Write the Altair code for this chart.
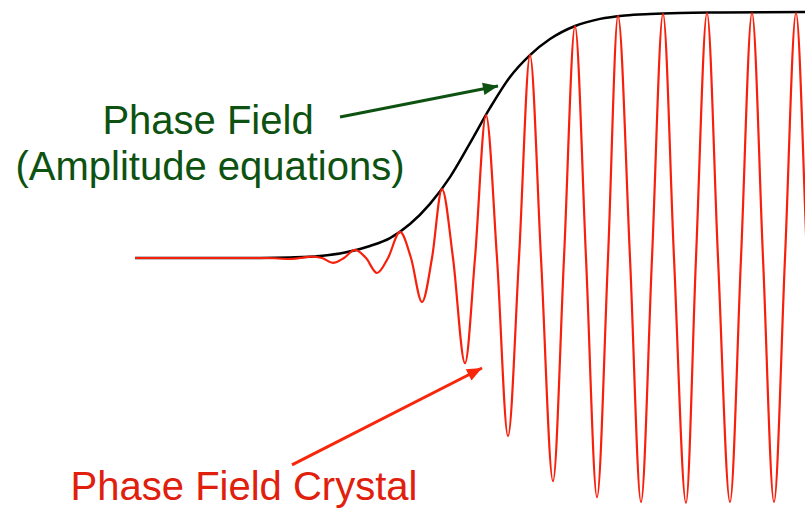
import altair as alt
import pandas as pd

# Amplitude-equation envelope (phase field): position along the interface and amplitude
env_x = [135, 260, 290, 320, 345, 370, 390, 410, 430, 450, 470, 490, 510, 530,
         550, 575, 600, 625, 650, 680, 720, 805]
env_a = [0.0, 0.0, 0.002, 0.008, 0.022, 0.049, 0.081, 0.138, 0.220, 0.329, 0.467,
         0.610, 0.736, 0.825, 0.890, 0.943, 0.972, 0.986, 0.992, 0.996, 0.998, 1.0]

# Phase field crystal density: extrema and baseline crossings
pfc_x = [135, 267, 289, 300, 311, 322, 333, 344, 355, 366, 377, 388, 400, 411, 422,
         432, 442, 453, 465, 475, 486, 497, 508, 519, 530, 541, 553, 564, 575, 586,
         597, 608, 618, 630, 641, 652, 663, 674, 686, 696, 707, 718, 730, 741, 752,
         763, 774, 785, 796, 807, 818]
pfc_a = [0.0, 0.0, -0.004, 0.0, 0.006, 0.0, -0.020, 0.0, 0.033, 0.0, -0.061, 0.0,
         0.106, 0.0, -0.179, 0.0, 0.280, 0.0, -0.427, 0.0, 0.581, 0.0, -0.724, 0.0,
         0.825, 0.0, -0.907, 0.0, 0.943, 0.0, -0.972, 0.0, 0.984, 0.0, -0.992, 0.0,
         0.992, 0.0, -0.996, 0.0, 0.996, 0.0, -0.992, 0.0, 0.996, 0.0, -0.992, 0.0,
         0.996, 0.0, -0.992]

# Annotation labels
label_text = ["Phase Field", "(Amplitude equations)", "Phase Field Crystal"]
label_x = [208, 210, 244]
label_a = [0.504, 0.317, -0.984]
label_color = ["#0d5210", "#0d5210", "#e0200c"]

# Annotation arrows (start -> tip)
arrow_x = [340, 292]
arrow_a = [0.573, -0.841]
arrow_x2 = [498, 482]
arrow_a2 = [0.699, -0.447]
arrow_angle = [79, 63]
arrow_color = ["#0d5210", "#f8260a"]

env = pd.DataFrame({"x": env_x, "a": env_a})
pfc = pd.DataFrame({"x": pfc_x, "a": pfc_a})
labels = pd.DataFrame({"text": label_text, "x": label_x, "a": label_a, "color": label_color})
arrows = pd.DataFrame({"x": arrow_x, "a": arrow_a, "x2": arrow_x2, "a2": arrow_a2,
                       "angle": arrow_angle, "color": arrow_color})

xs = alt.Scale(domain=[0, 805], nice=False, zero=False)
ys = alt.Scale(domain=[-1.0203, 1.0488], nice=False, zero=False)

X = lambda f: alt.X(f, scale=xs, axis=None)
Y = lambda f: alt.Y(f, scale=ys, axis=None)

envelope = alt.Chart(env).mark_line(
    interpolate="monotone", color="black", strokeWidth=2.5, clip=True
).encode(x=X("x:Q"), y=Y("a:Q"))

crystal = alt.Chart(pfc).mark_line(
    interpolate="monotone", color="#f8200c", strokeWidth=2.2, clip=True
).encode(x=X("x:Q"), y=Y("a:Q"))

shafts = alt.Chart(arrows).mark_rule(strokeWidth=3).encode(
    x=X("x:Q"), y=Y("a:Q"), x2="x2:Q", y2="a2:Q",
    color=alt.Color("color:N", scale=None),
)

heads = alt.Chart(arrows).mark_point(
    shape="M0,0L-0.42,1L0.42,1Z", filled=True, opacity=1, size=900, strokeWidth=0
).encode(
    x=X("x2:Q"), y=Y("a2:Q"),
    angle=alt.Angle("angle:Q", scale=None),
    color=alt.Color("color:N", scale=None),
)

texts = alt.Chart(labels).mark_text(
    font="Liberation Sans", fontSize=40, align="center", baseline="alphabetic"
).encode(
    x=X("x:Q"), y=Y("a:Q"), text="text:N",
    color=alt.Color("color:N", scale=None),
)

chart = alt.layer(envelope, crystal, shafts, heads, texts).properties(
    width=805, height=509,
    autosize=alt.AutoSizeParams(type="fit", contains="padding"),
    padding=0, background="white",
).configure_view(stroke=None)

chart.save("out.html", embed_options={"renderer": "svg", "actions": False})
